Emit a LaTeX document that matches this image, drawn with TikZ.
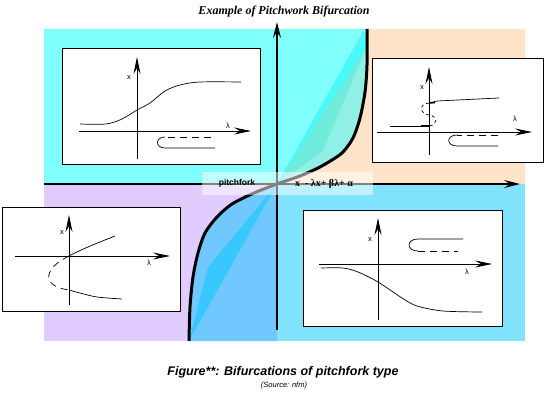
\documentclass[tikz,border=0pt]{standalone}
\usepackage{fontspec}
\setmainfont{Liberation Serif}
\setsansfont{Liberation Sans}
\usetikzlibrary{arrows.meta}
\definecolor{qcyan}{HTML}{80FFFF}
\definecolor{qpeach}{HTML}{FFE4CA}
\definecolor{qlilac}{HTML}{E0CCFF}
\definecolor{qblue}{HTML}{80E4FF}
\definecolor{fanteal}{HTML}{90F0E6}
\definecolor{fanmid}{HTML}{70ECDC}
\definecolor{fanbright}{HTML}{48FAFA}
\definecolor{fanblue}{HTML}{70C8FF}
\definecolor{fandeep}{HTML}{38C8FF}
\tikzset{fig/.style={line join=round,>=Stealth},
  axis/.style={line width=2pt,-{Stealth[length=16pt,width=8pt,inset=6pt]}},
  iaxis/.style={line width=0.9pt,-{Stealth[length=17pt,width=7pt,inset=6pt]}},
  inset/.style={draw,line width=0.9pt,fill=white},
  branch/.style={line width=0.7pt},
  dashline/.style={dash pattern=on 7pt off 5pt},
  small/.style={font=\sffamily\fontsize{7.5}{7.5}\selectfont,inner sep=0pt}}

\begin{document}
\begin{tikzpicture}[fig,x=1pt,y=-1pt]
  \useasboundingbox (0,0) rectangle (554,401);
  % quadrants
  \fill[qcyan] (44,29) rectangle (277,184);
  \fill[qpeach] (277,29) rectangle (525,184);
  \fill[qlilac] (44,184) rectangle (277,341);
  \fill[qblue] (277,184) rectangle (525,341);
  % fans between axis and curve
  \fill[qcyan] (277,29) -- plot[smooth] coordinates {(367,29) (367,65) (365,92) (360,118) (353,138) (343,152) (332,160) (318,168) (300,176) (277,184)} -- cycle;
  \fill[fanteal] (277,184) -- (364,29) -- plot[smooth] coordinates {(367,29) (367,65) (365,92) (360,118) (353,138) (343,152) (332,160) (318,168) (300,176) (277,184)} -- cycle;
  \fill[fanmid] (277,184) -- (323,151) -- (367,46) -- cycle;
  \fill[fanbright] (277,184) -- (364,30) -- (367,46) -- cycle;
  \fill[fanblue] (277,184) -- plot[smooth] coordinates {(277,184) (254,193) (232,204) (217,217) (205,233) (198,253) (193,277) (190,307) (189,341)} -- (277,341) -- cycle;
  \fill[fandeep] (277,184) -- (208,267) -- (189,341) -- cycle;
  % main axes and curve
  \draw[axis] (277,330) -- (277,22);
  \draw[axis] (44,184) -- (520,184);
  \draw[line width=3pt] plot[smooth] coordinates {(367,29) (367,65) (365,92) (360,118) (353,138) (343,152) (332,160) (318,168) (300,176) (277,184) (254,193) (232,204) (217,217) (205,233) (198,253) (193,277) (190,307) (189,341)};
  % top-left inset
  \draw[inset] (62,48) rectangle (260,164);
  \draw[iaxis] (79,131) -- (251,131);
  \draw[iaxis] (137,159) -- (137,57);
  \node[small] (xa) at (129,78) {x};
  \node[small] (la) at (228,126) {λ};
  \draw[branch] plot[smooth] coordinates {(80,124) (106,124) (122,119) (137,110) (150,103) (165,91) (180,85) (200,82) (241,82)};
  \draw[branch,dashline] (211,137) -- (165,137);
  \draw[branch] (165,137) .. controls (155,137) and (155,148) .. (165,148) -- (215,148);
  % top-right inset
  \draw[inset] (372,58) rectangle (543,162);
  \draw[iaxis] (377,132) -- (532,132);
  \draw[iaxis] (429,155) -- (429,67);
  \node[small] (xb) at (422,88) {x};
  \node[small] (lb) at (515,119) {λ};
  \draw[branch] (429,103) -- (437,101) -- (499,98);
  \draw[line width=1.6pt] (429,103) -- (435,102.5);
  \draw[branch] (390,126) -- (429,126);
  \draw[line width=1.6pt] (421,126) -- (429,126);
  \draw[branch,dashed] (429,103) .. controls (418,104) and (420,114) .. (429,115) .. controls (438,116) and (438,125) .. (429,126);
  \draw[branch,dashline] (498,135) -- (457,135);
  \draw[branch] (457,135) .. controls (446,135) and (446,146) .. (457,146) -- (498,146);
  % bottom-left inset
  \draw[inset] (2,207) rectangle (180,311);
  \draw[iaxis] (15,256) -- (170,256);
  \draw[iaxis] (69,305) -- (69,215);
  \node[small] (xc) at (62,233) {x};
  \node[small] (lc) at (149,263) {λ};
  \draw[branch] (69,256) .. controls (84,248) and (100,242) .. (115,236);
  \draw[branch] plot[smooth] coordinates {(69,290) (80,293) (97,297) (122,299)};
  \draw[branch,dashline] (69,256) .. controls (44,268) and (40,286) .. (69,290);
  % bottom-right inset
  \draw[inset] (303,210) rectangle (502,326);
  \draw[iaxis] (319,264) -- (492,264);
  \draw[iaxis] (378,320) -- (378,218);
  \node[small] (xd) at (370,240) {x};
  \node[small] (ld) at (467,272) {λ};
  \draw[branch] plot[smooth] coordinates {(321,268) (343,268) (358,272) (378,282) (402,298) (417,306) (443,311) (482,312)};
  \draw[branch] (463,239) -- (418,239) .. controls (406,239) and (406,251) .. (418,251);
  \draw[branch,dashline] (418,251) -- (458,251);
  % label band
  \fill[white,opacity=0.5] (202,172) rectangle (373,195);
  \node[font=\sffamily\bfseries\fontsize{8.5}{8.5}\selectfont] (pitch) at (237,183) {pitchfork};
  \node[font=\bfseries\fontsize{10}{10}\selectfont] (formula) at (324,184) {x \ - λx+ βλ+ α};
  % title and caption
  \node[font=\bfseries\itshape\fontsize{12}{12}\selectfont] (title) at (284,12) {Example of Pitchwork Bifurcation};
  \node[font=\sffamily\bfseries\itshape\fontsize{12.5}{12.5}\selectfont] (caption) at (283,372) {Figure**: Bifurcations of pitchfork type};
  \node[font=\sffamily\itshape\fontsize{7.5}{7.5}\selectfont] (source) at (284,386) {(Source: nfm)};
\end{tikzpicture}
\end{document}
